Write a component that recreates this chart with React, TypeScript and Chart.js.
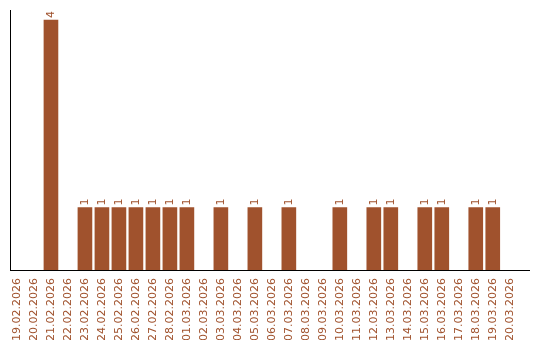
import React, { useEffect, useRef } from "react";
import { Chart, registerables } from "chart.js";

Chart.register(...registerables);

const dates = [
  "19.02.2026", "20.02.2026", "21.02.2026", "22.02.2026", "23.02.2026",
  "24.02.2026", "25.02.2026", "26.02.2026", "27.02.2026", "28.02.2026",
  "01.03.2026", "02.03.2026", "03.03.2026", "04.03.2026", "05.03.2026",
  "06.03.2026", "07.03.2026", "08.03.2026", "09.03.2026", "10.03.2026",
  "11.03.2026", "12.03.2026", "13.03.2026", "14.03.2026", "15.03.2026",
  "16.03.2026", "17.03.2026", "18.03.2026", "19.03.2026", "20.03.2026",
];
const counts = [
  0, 0, 4, 0, 1, 1, 1, 1, 1, 1,
  1, 0, 1, 0, 1, 0, 1, 0, 0, 1,
  0, 1, 1, 0, 1, 1, 0, 1, 1, 0,
];

const COLOR = "#A0522D";
const FONT = "'DejaVu Sans', Verdana, sans-serif";

const valueLabels = {
  id: "valueLabels",
  afterDatasetsDraw(chart: any) {
    const ctx = chart.ctx;
    const meta = chart.getDatasetMeta(0);
    ctx.save();
    ctx.fillStyle = COLOR;
    ctx.font = `11px ${FONT}`;
    ctx.textAlign = "left";
    ctx.textBaseline = "middle";
    meta.data.forEach((bar: any, i: number) => {
      const v = counts[i];
      if (!v) return;
      ctx.save();
      ctx.translate(bar.x, bar.y - 2);
      ctx.rotate(-Math.PI / 2);
      ctx.fillText(String(v), 0, 0);
      ctx.restore();
    });
    ctx.restore();
  },
};

export default function App() {
  const ref = useRef<HTMLCanvasElement>(null);
  useEffect(() => {
    if (!ref.current) return;
    const chart = new Chart(ref.current, {
      type: "bar",
      data: {
        datasets: [
          {
            data: counts.map((v, i) => ({ x: i, y: v === 0 ? null : v })),
            backgroundColor: COLOR,
            borderWidth: 0,
            barThickness: 14,
          },
        ],
      },
      options: {
        animation: false,
        responsive: true,
        maintainAspectRatio: false,
        layout: { padding: { left: 10, right: 10, top: 10, bottom: 0 } },
        plugins: { legend: { display: false }, tooltip: { enabled: false } },
        scales: {
          x: {
            type: "linear",
            offset: false,
            min: -0.41,
            max: 30.18,
            grid: { display: false, offset: false },
            border: { display: true, color: "#000", width: 1 },
            afterFit: (s: any) => {
              s.height = 70;
            },
            ticks: {
              stepSize: 1,
              autoSkip: false,
              includeBounds: false,
              maxRotation: 90,
              minRotation: 90,
              padding: 0,
              color: COLOR,
              font: { family: FONT, size: 11 },
              callback: (v: any) =>
                Number.isInteger(v) && dates[v] ? dates[v] : "",
            },
          },
          y: {
            min: 0,
            max: 4.16,
            grid: { display: false },
            border: { display: true, color: "#000", width: 1 },
            ticks: { display: false },
            afterFit: (s: any) => {
              s.width = 0;
            },
          },
        },
      },
      plugins: [valueLabels],
    });
    return () => chart.destroy();
  }, []);
  return (
    <div style={{ position: "fixed", left: 0, top: 0, width: 540, height: 340 }}>
      <canvas ref={ref} />
    </div>
  );
}
